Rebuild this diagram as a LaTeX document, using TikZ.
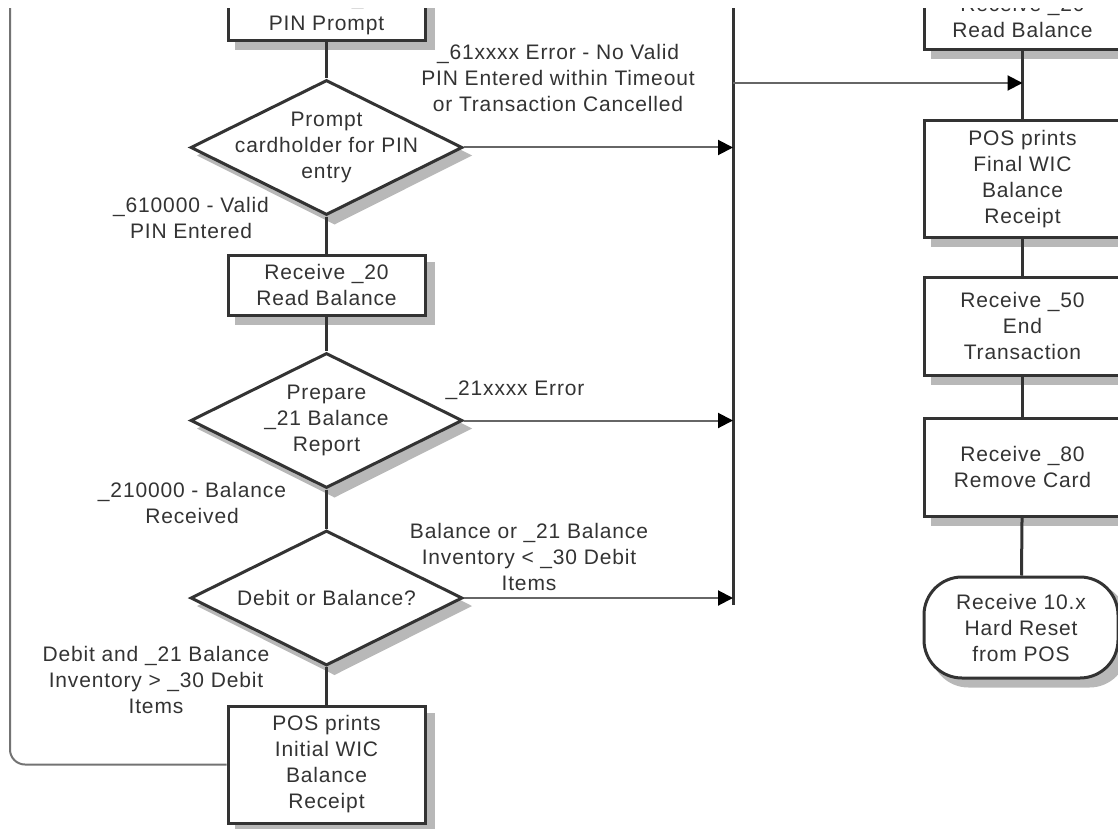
\documentclass[tikz,border=0pt]{standalone}
\usepackage{fontspec}
\setmainfont{Liberation Sans}[LetterSpace=4]
\usetikzlibrary{shapes.geometric,arrows.meta,backgrounds}

\begin{document}
\begin{tikzpicture}[x=1pt,y=-1pt,
		font=\fontsize{21}{26}\selectfont,
		every node/.style={text=black!80, align=center},
		box/.style={draw=black!80, line width=3pt, fill=white, minimum width=197pt, inner sep=2pt},
		dec/.style={diamond, aspect=2, draw=black!80, line width=3pt, fill=white, minimum width=272pt, minimum height=135pt, inner sep=-12pt},
		term/.style={box, rounded corners=38pt},
		lbl/.style={inner sep=0pt},
		shd/.style={fill=black!28, draw=none},
		flow/.style={draw=black!80, line width=3pt},
		arr/.style={draw=black!60, line width=2pt, -{Triangle[length=15pt,width=15pt,color=black]}},
		retline/.style={draw=black!55, line width=2pt, rounded corners=15pt}
		]
		\useasboundingbox (0,0) rectangle (1118,829);
		\clip (0,9) rectangle (1118,829);

		% left column
		\node[box, minimum height=57pt] (pinprompt) at (326.5,12.5) {Receive \_60\\PIN Prompt};
		\node[dec] (pindec) at (326.5,147.5) {Prompt\\cardholder for PIN\\entry};
		\node[box, minimum height=60pt] (readbal) at (326.5,285) {Receive \_20\\Read Balance};
		\node[dec] (rptdec) at (326.5,420.5) {Prepare\\\_21 Balance\\Report};
		\node[dec] (debdec) at (326.5,598) {Debit or Balance?};
		\node[box, minimum height=117pt] (initrcpt) at (326.5,764.5) {POS prints\\Initial WIC\\Balance\\Receipt};

		% right column
		\node[box, minimum height=67pt] (readbal2) at (1022.5,16.5) {Receive \_20\\Read Balance};
		\node[box, minimum height=116pt] (finrcpt) at (1022.5,179) {POS prints\\Final WIC\\Balance\\Receipt};
		\node[box, minimum height=98pt] (endtx) at (1022.5,326) {Receive \_50\\End\\Transaction};
		\node[box, minimum height=98pt] (rmcard) at (1022.5,467) {Receive \_80\\Remove Card};
		\node[term, minimum width=194pt, minimum height=101pt] (hardrst) at (1021,627.5) {Receive 10.x\\Hard Reset\\from POS};

		% shadows, 8pt down and right
		\begin{pgfonlayer}{background}
			\clip (0,9) rectangle (1118,829);
			\foreach \n in {pinprompt,readbal,initrcpt,readbal2,finrcpt,endtx,rmcard}
			\fill[shd] ([shift={(8,8)}]\n.north west) rectangle ([shift={(8,8)}]\n.south east);
			\foreach \n in {pindec,rptdec,debdec}
			\fill[shd] ([shift={(8,8)}]\n.north) -- ([shift={(8,8)}]\n.east) -- ([shift={(8,8)}]\n.south) -- ([shift={(8,8)}]\n.west) -- cycle;
			\fill[shd, rounded corners=38pt] ([shift={(8,8)}]hardrst.north west) rectangle ([shift={(8,8)}]hardrst.south east);
		\end{pgfonlayer}

		\foreach \a/\b in {pinprompt/pindec,pindec/readbal,readbal/rptdec,rptdec/debdec,debdec/initrcpt,
			readbal2/finrcpt,finrcpt/endtx,endtx/rmcard,rmcard/hardrst}
		\draw[flow] (\a) -- (\b);

		% error bus
		\coordinate (bustop) at (733,-20);
		\coordinate (busend) at (733,605);
		\coordinate (busjoin) at (733,83);
		\draw[flow] (bustop) -- (busend);
		\foreach \d in {pindec,rptdec,debdec}
		\draw[arr] (\d.east) -- (\d.east -| bustop);
		\draw[arr] (busjoin) -- (busjoin -| finrcpt);

		% back to the top
		\coordinate (looptop) at (10,-20);
		\draw[retline] (initrcpt.west) -| (looptop);

		\node[lbl] (pinok) at (191,218) {\_610000 - Valid\\PIN Entered};
		\node[lbl] (rptok) at (192,503) {\_210000 - Balance\\Received};
		\node[lbl] (debok) at (156,680) {Debit and \_21 Balance\\Inventory > \_30 Debit\\Items};
		\node[lbl] (pinerr) at (558,78) {\_61xxxx Error - No Valid\\PIN Entered within Timeout\\or Transaction Cancelled};
		\node[lbl] (rpterr) at (515,390) {\_21xxxx Error};
		\node[lbl] (debbal) at (529,557) {Balance or \_21 Balance\\Inventory < \_30 Debit\\Items};
	\end{tikzpicture}
\end{document}
